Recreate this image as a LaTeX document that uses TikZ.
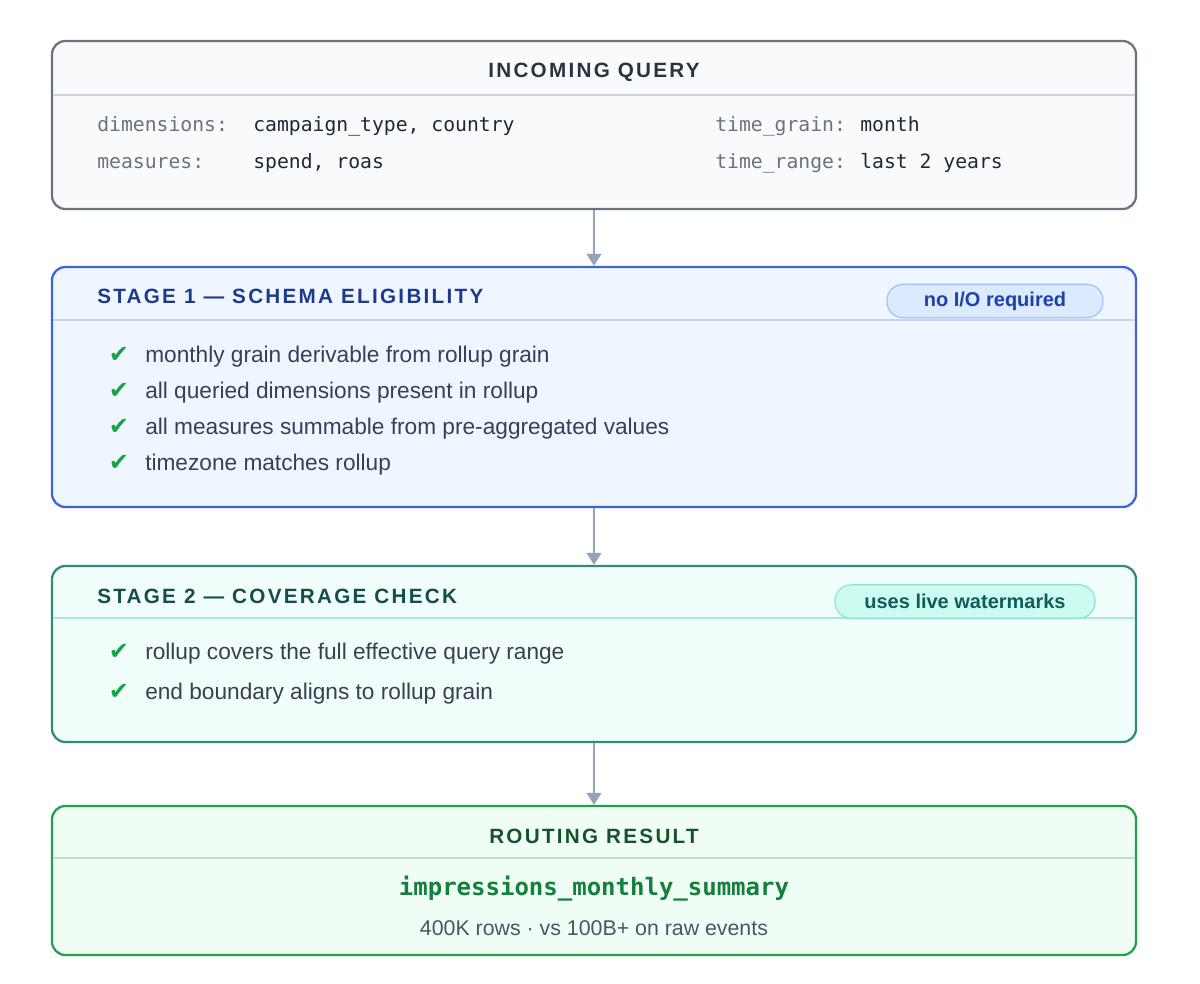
\documentclass[tikz,border=0pt]{standalone}
\usepackage{fontspec}
\setmainfont{Liberation Sans}
\setmonofont{DejaVu Sans Mono}
\newfontfamily\hdfont[LetterSpace=11]{Liberation Sans}
\newfontfamily\symfont{DejaVu Sans}
\usepackage{xcolor}
\usetikzlibrary{positioning,arrows.meta}
\definecolor{qline}{HTML}{6B7280}
\definecolor{qfill}{HTML}{F8FAFC}
\definecolor{qdiv}{HTML}{CBD5E1}
\definecolor{qhead}{HTML}{2B3340}
\definecolor{keygrey}{HTML}{6B7280}
\definecolor{valink}{HTML}{1F2937}
\definecolor{bodyink}{HTML}{374151}
\definecolor{oneline}{HTML}{3D63DD}
\definecolor{onefill}{HTML}{EFF6FF}
\definecolor{onediv}{HTML}{C3D6F7}
\definecolor{onehead}{HTML}{1E3A8A}
\definecolor{onetagfill}{HTML}{DBEAFE}
\definecolor{onetagline}{HTML}{9DC3F5}
\definecolor{onetagtext}{HTML}{1E40AF}
\definecolor{twoline}{HTML}{2F8C7A}
\definecolor{twofill}{HTML}{F0FDFA}
\definecolor{twodiv}{HTML}{A7E8DC}
\definecolor{twohead}{HTML}{134E4A}
\definecolor{twotagfill}{HTML}{CCFBF1}
\definecolor{twotagline}{HTML}{8EE3D2}
\definecolor{twotagtext}{HTML}{115E59}
\definecolor{resline}{HTML}{22A04B}
\definecolor{resfill}{HTML}{F0FDF4}
\definecolor{resdiv}{HTML}{B5E6C6}
\definecolor{reshead}{HTML}{14532D}
\definecolor{resmono}{HTML}{15803D}
\definecolor{ressub}{HTML}{4B5563}
\definecolor{chkgreen}{HTML}{16A34A}
\definecolor{flowgrey}{HTML}{94A3B8}

\begin{document}
\begin{tikzpicture}[x=0.75pt,y=-0.75pt,
  panel/.style={rectangle,rounded corners=10pt,line width=1.7pt,minimum width=813pt,inner sep=0pt},
  divline/.style={line width=0.9pt},
  hdr/.style={font=\hdfont\bfseries\fontsize{15.5}{18}\selectfont,inner sep=0pt},
  key/.style={font=\ttfamily\fontsize{14.8}{17}\selectfont,text=keygrey,anchor=base west,inner sep=0pt},
  val/.style={font=\ttfamily\fontsize{14.8}{17}\selectfont,text=valink,anchor=base west,inner sep=0pt},
  item/.style={font=\fontsize{17}{20}\selectfont,text=bodyink,anchor=base west,inner sep=0pt},
  chk/.style={font=\symfont\bfseries\fontsize{18}{20}\selectfont,text=chkgreen,anchor=base,inner sep=0pt},
  tag/.style={rectangle,rounded corners=12pt,line width=0.9pt,minimum height=25pt,inner sep=0pt,font=\bfseries\fontsize{15}{17}\selectfont},
  flow/.style={-{Triangle[length=9pt,width=11pt]},line width=1.5pt,draw=flowgrey}]
\useasboundingbox (0,0) rectangle (1200,983);

% incoming query
\node[panel,draw=qline,fill=qfill,minimum height=126pt] (query) at (594,125) {};
\draw[divline,qdiv] (53,95) -- (1135,95);
\node[hdr,text=qhead,anchor=base] (queryhd) at (594,77) {INCOMING QUERY};
\node[key] (dimkey) at (97,131) {dimensions:};
\node[val] (dimval) at (253,131) {campaign\textunderscore type, country};
\node[key] (meskey) at (97,168) {measures:};
\node[val] (mesval) at (253,168) {spend, roas};
\node[key] (grainkey) at (715,131) {time\textunderscore grain:};
\node[val] (grainval) at (860,131) {month};
\node[key] (rangekey) at (715,168) {time\textunderscore range:};
\node[val] (rangeval) at (860,168) {last 2 years};

% stage 1
\node[panel,draw=oneline,fill=onefill,minimum height=180pt] (stageone) at (594,387) {};
\draw[divline,onediv] (53,320) -- (1135,320);
\node[hdr,text=onehead,anchor=base west] (onehd) at (97,303) {STAGE 1 — SCHEMA ELIGIBILITY};
\node[tag,draw=onetagline,fill=onetagfill,text=onetagtext,minimum width=162pt] (noio) at (995,301) {no I/O required};
\node[chk] (chka) at (119,362) {✔};
\node[item] (itema) at (145,362) {monthly grain derivable from rollup grain};
\node[chk] (chkb) at (119,398) {✔};
\node[item] (itemb) at (145,398) {all queried dimensions present in rollup};
\node[chk] (chkc) at (119,434) {✔};
\node[item] (itemc) at (145,434) {all measures summable from pre-aggregated values};
\node[chk] (chkd) at (119,470) {✔};
\node[item] (itemd) at (145,470) {timezone matches rollup};

% stage 2
\node[panel,draw=twoline,fill=twofill,minimum height=132pt] (stagetwo) at (594,654) {};
\draw[divline,twodiv] (53,618) -- (1135,618);
\node[hdr,text=twohead,anchor=base west] (twohd) at (97,603) {STAGE 2 — COVERAGE CHECK};
\node[tag,draw=twotagline,fill=twotagfill,text=twotagtext,minimum width=195pt] (watermarks) at (965,601.5) {uses live watermarks};
\node[chk] (chke) at (119,659) {✔};
\node[item] (iteme) at (145,659) {rollup covers the full effective query range};
\node[chk] (chkf) at (119,699) {✔};
\node[item] (itemf) at (145,699) {end boundary aligns to rollup grain};

% routing result
\node[panel,draw=resline,fill=resfill,minimum height=111.75pt] (result) at (594,880.5) {};
\draw[divline,resdiv] (53,858) -- (1135,858);
\node[hdr,text=reshead,anchor=base] (reshd) at (594,843) {ROUTING RESULT};
\node[font=\ttfamily\bfseries\fontsize{18}{21}\selectfont,text=resmono,anchor=base,inner sep=0pt] (rollup) at (594,895) {impressions\textunderscore monthly\textunderscore summary};
\node[font=\fontsize{16}{19}\selectfont,text=ressub,anchor=base,inner sep=0pt] (rows) at (594,935) {400K rows · vs 100B+ on raw events};

\draw[flow] (query) -- (stageone);
\draw[flow] (stageone) -- (stagetwo);
\draw[flow] (stagetwo) -- (result);
\end{tikzpicture}
\end{document}
